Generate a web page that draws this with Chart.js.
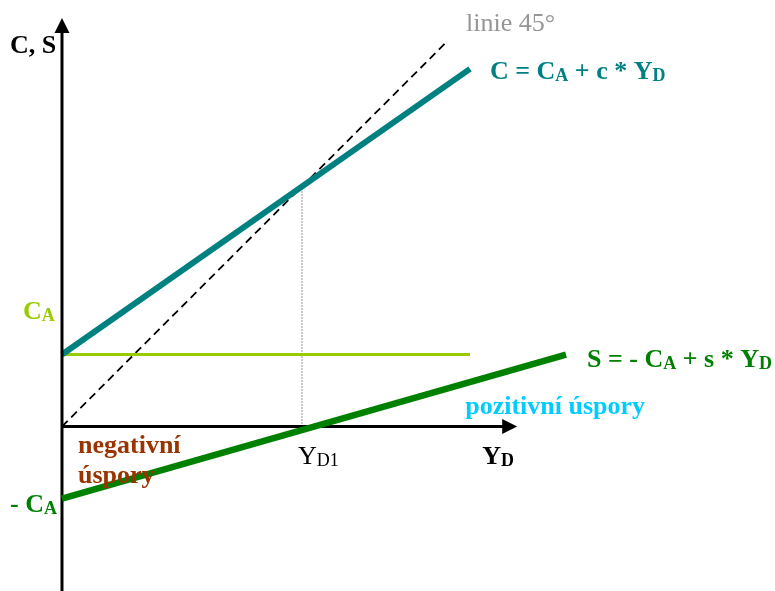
<!DOCTYPE html>
<html>
<head>
<meta charset="utf-8">
<script src="https://cdn.jsdelivr.net/npm/chart.js@4/dist/chart.umd.min.js"></script>
<style>
  html, body { margin: 0; padding: 0; background: #ffffff; }
  #wrap { position: relative; width: 775px; height: 591px; }
</style>
</head>
<body>
<div id="wrap"><canvas id="chart"></canvas></div>
<script>
// ---- data (model units) ----
const autonomousC = 3;                 // C_A
const incomeX = [0, 17];               // Y_D extent of C and C_A lines
const consumptionY = [3, 14.9];        // C = C_A + c*Y_D
const autonomousY = [3, 3];            // horizontal C_A line
const line45X = [0, 16];
const line45Y = [0, 16];
const savingX = [0, 21];
const savingY = [-3, 3.0];             // S = -C_A + s*Y_D
const yd1 = 10;                        // break-even income Y_D1
const xAxisX = [0, 18.55];
const yAxisY = [-7, 16.6];

// axis ranges
const X_MIN = -2.583, X_MAX = 29.708;
const Y_MIN = -6.854, Y_MAX = 17.771;

const pts = (xs, ys) => xs.map((x, i) => ({ x: x, y: ys[i] }));

const SERIF = '"Liberation Serif", "Times New Roman", serif';

function drawRich(ctx, parts, x, y, color, bold, size) {
  const w = bold ? 'bold ' : '';
  const subSize = Math.round(size * 0.7);
  let cx = x;
  ctx.fillStyle = color;
  ctx.textBaseline = 'alphabetic';
  ctx.textAlign = 'left';
  for (const p of parts) {
    const sub = Array.isArray(p);
    const t = sub ? p[0] : p;
    ctx.font = w + (sub ? subSize : size) + 'px ' + SERIF;
    ctx.fillText(t, cx, y + (sub ? 2 : 0));
    cx += ctx.measureText(t).width;
  }
}

const arrowPlugin = {
  id: 'arrows',
  afterDatasetsDraw(chart) {
    const ctx = chart.ctx;
    chart.data.datasets.forEach((ds, i) => {
      if (!ds.arrow) return;
      const els = chart.getDatasetMeta(i).data;
      const a = els[els.length - 2], b = els[els.length - 1];
      const dx = b.x - a.x, dy = b.y - a.y;
      const L = Math.hypot(dx, dy);
      const ux = dx / L, uy = dy / L;
      const tipX = b.x + ux * 10, tipY = b.y + uy * 10;
      const bx = b.x - ux * 5, by = b.y - uy * 5;
      ctx.save();
      ctx.fillStyle = '#000000';
      ctx.beginPath();
      ctx.moveTo(tipX, tipY);
      ctx.lineTo(bx - uy * 7.5, by + ux * 7.5);
      ctx.lineTo(bx + uy * 7.5, by - ux * 7.5);
      ctx.closePath();
      ctx.fill();
      ctx.restore();
    });
  }
};

const labelPlugin = {
  id: 'labels',
  afterDatasetsDraw(chart) {
    const ctx = chart.ctx;
    const xs = chart.scales.x, ys = chart.scales.y;
    const px = v => xs.getPixelForValue(v);
    const py = v => ys.getPixelForValue(v);
    ctx.save();
    // axis titles
    drawRich(ctx, ['C, S'], px(0) - 52, py(yAxisY[1]) + 25, '#000000', true, 26);
    drawRich(ctx, ['Y', ['D']], px(xAxisX[1]) - 25, py(0) + 37, '#000000', true, 26);
    drawRich(ctx, ['Y', ['D1']], px(yd1) - 4, py(0) + 37, '#000000', false, 26);
    // 45 degree line
    drawRich(ctx, ['linie 45°'], px(line45X[1]) + 20, py(line45Y[1]) - 12, '#969696', false, 26);
    // consumption function
    drawRich(ctx, ['C = C', ['A'], ' + c * Y', ['D']], px(incomeX[1]) + 20, py(consumptionY[1]) + 10, '#008080', true, 26);
    // saving function
    drawRich(ctx, ['S = - C', ['A'], ' + s * Y', ['D']], px(savingX[1]) + 21, py(savingY[1]) + 12, '#008000', true, 26);
    // C_A and -C_A on the vertical axis
    drawRich(ctx, ['C', ['A']], px(0) - 39, py(autonomousC) - 36, '#99cc00', true, 26);
    drawRich(ctx, ['- C', ['A']], px(0) - 52, py(-autonomousC) + 13, '#008000', true, 26);
    // savings regions
    drawRich(ctx, ['pozitivní úspory'], px(xAxisX[1]) - 42, py(0) - 13, '#00ccff', true, 26);
    drawRich(ctx, ['negativní'], px(0) + 16, py(0) + 26, '#993300', true, 26);
    drawRich(ctx, ['úspory'], px(0) + 16, py(0) + 56, '#993300', true, 26);
    ctx.restore();
  }
};

const line = (data, color, width, extra) => Object.assign({
  data: data,
  borderColor: color,
  backgroundColor: color,
  borderWidth: width,
  pointRadius: 0,
  fill: false,
  tension: 0,
  borderCapStyle: 'butt'
}, extra || {});

new Chart(document.getElementById('chart'), {
  type: 'line',
  data: {
    datasets: [
      line(pts(savingX, savingY), '#008000', 6.5, { order: 1 }),
      line(pts(xAxisX, [0, 0]), '#000000', 3, { order: 2, arrow: true }),
      line(pts([0, 0], yAxisY), '#000000', 3, { order: 2, arrow: true }),
      line(pts(incomeX, consumptionY), '#008080', 6, { order: 3 }),
      line(pts(incomeX, autonomousY), '#99cc00', 3, { order: 4 }),
      line(pts(line45X, line45Y), '#000000', 1.8, { order: 5, borderDash: [8, 5] }),
      line(pts([yd1, yd1], [0, yd1]), '#333333', 1, { order: 6, borderDash: [1, 2] })
    ]
  },
  options: {
    responsive: true,
    maintainAspectRatio: false,
    animation: false,
    layout: { padding: 0 },
    plugins: { legend: { display: false }, tooltip: { enabled: false } },
    events: [],
    scales: {
      x: { type: 'linear', min: X_MIN, max: X_MAX, display: false },
      y: { type: 'linear', min: Y_MIN, max: Y_MAX, display: false }
    }
  },
  plugins: [arrowPlugin, labelPlugin]
});
</script>
</body>
</html>
